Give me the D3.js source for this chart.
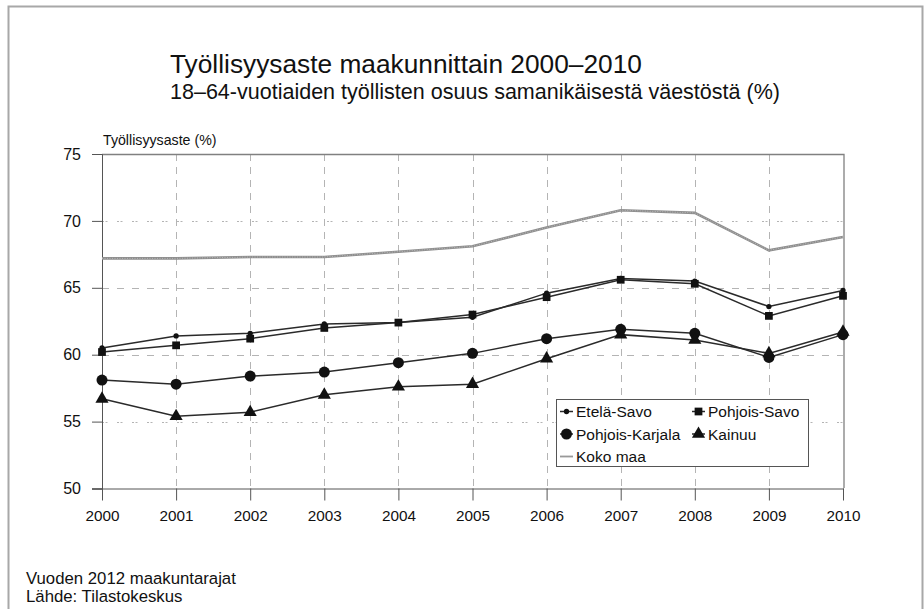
<!DOCTYPE html>
<html><head><meta charset="utf-8">
<script src="https://cdn.jsdelivr.net/npm/d3@7"></script>
<style>body{margin:0;background:#fff}svg{display:block;font-family:"Liberation Sans",Arial,sans-serif}</style>
</head><body>
<script>
const years = [2000,2001,2002,2003,2004,2005,2006,2007,2008,2009,2010];
const etelaSavo = [60.5,61.4,61.6,62.3,62.4,62.8,64.6,65.7,65.5,63.6,64.8];
const pohjoisSavo = [60.2,60.7,61.2,62.0,62.4,63.0,64.3,65.6,65.3,62.9,64.4];
const pohjoisKarjala = [58.1,57.8,58.4,58.7,59.4,60.1,61.2,61.9,61.6,59.8,61.5];
const kainuu = [56.7,55.4,55.7,57.0,57.6,57.8,59.7,61.5,61.1,60.1,61.7];
const kokoMaa = [67.2,67.2,67.3,67.3,67.7,68.1,69.5,70.8,70.6,67.8,68.8];
const yTicks = [50,55,60,65,70,75];
const seriesNames = ["Etelä-Savo","Pohjois-Savo","Pohjois-Karjala","Kainuu","Koko maa"];
const titleText = "Työllisyysaste maakunnittain 2000–2010";
const subtitleText = "18–64-vuotiaiden työllisten osuus samanikäisestä väestöstä (%)";
const yAxisTitle = "Työllisyysaste (%)";
const footer = ["Vuoden 2012 maakuntarajat","Lähde: Tilastokeskus"];

const W=924,H=609;
const svg=d3.select("body").append("svg").attr("width",W).attr("height",H);
svg.append("path").attr("d","M8.5,609 V6.5 H922.5 V609").attr("fill","none").attr("stroke","#a8a8a8").attr("stroke-width",2);

function fit(sel,target){
  const w=sel.node().getComputedTextLength();
  const fs=parseFloat(sel.attr("font-size"));
  sel.attr("font-size",(fs*target/w).toFixed(2));
  return sel;
}

const x=d3.scaleLinear().domain([2000,2010]).range([102,843]);
const y=d3.scaleLinear().domain([50,75]).range([488.5,154]);

fit(svg.append("text").attr("x",170).attr("y",73).attr("font-size",26).attr("fill","#111").text(titleText),472);
fit(svg.append("text").attr("x",170).attr("y",98.5).attr("font-size",21).attr("fill","#111").text(subtitleText),610);
svg.append("text").attr("x",103).attr("y",145).attr("font-size",14.2).attr("fill","#111").text(yAxisTitle);

const g=svg.append("g");
g.selectAll(".hg").data(yTicks.filter(d=>d>50&&d<75)).join("line")
 .attr("x1",102).attr("x2",843).attr("y1",d=>Math.round(y(d))+0.5).attr("y2",d=>Math.round(y(d))+0.5)
 .attr("stroke","#b4b4b4").attr("stroke-width",1)
 .attr("stroke-dasharray",d=>(d===70||d===55)?"2,1.5,2,9.5":"7,8");
g.selectAll(".vg").data(years.filter(d=>d>2000&&d<2010)).join("line")
 .attr("x1",d=>Math.round(x(d))+0.5).attr("x2",d=>Math.round(x(d))+0.5).attr("y1",154).attr("y2",488)
 .attr("stroke","#b4b4b4").attr("stroke-width",1).attr("stroke-dasharray","7,6");
g.append("path").attr("d",`M102,154.5 H844 V488`).attr("fill","none").attr("stroke","#808080").attr("stroke-width",1.3);

const yAxis=d3.axisLeft(y).tickValues(yTicks).tickSize(10).tickPadding(11);
const ya=svg.append("g").attr("transform","translate(102,0)").call(yAxis);
ya.select(".domain").attr("stroke","#555");
ya.selectAll(".tick line").attr("stroke","#555");
ya.selectAll("text").attr("font-size",16).attr("fill","#111").attr("font-family","Liberation Sans, Arial");
const xAxis=d3.axisBottom(x).tickValues(years).tickFormat(d3.format("d")).tickSize(12).tickPadding(10);
const xa=svg.append("g").attr("transform","translate(0,488.5)").call(xAxis);
xa.select(".domain").attr("d","M92,0.5H844").attr("stroke","#555");
xa.selectAll(".tick line").attr("stroke","#555");
xa.selectAll("text").attr("font-size",15.3).attr("fill","#111").attr("font-family","Liberation Sans, Arial");

const line=d3.line().x((d,i)=>x(years[i])).y(d=>y(d));
svg.append("path").datum(kokoMaa).attr("d",line).attr("fill","none").attr("stroke","#8e8e8e").attr("stroke-width",2.6);
svg.append("path").datum(kokoMaa).attr("d",line).attr("fill","none").attr("stroke","#c4c4c4").attr("stroke-width",0.8).attr("stroke-dasharray","1,1.5");

const dark="#2a2a2a";
const seriesData=[etelaSavo,pohjoisSavo,pohjoisKarjala,kainuu];
const symbols=[d3.symbolCircle,d3.symbolSquare,d3.symbolCircle,d3.symbolTriangle];
const sizes=[22,60,95,75];
seriesData.forEach((s,k)=>{
  svg.append("path").datum(s).attr("d",line).attr("fill","none").attr("stroke",dark).attr("stroke-width",1.5);
  svg.selectAll(null).data(s).join("path")
   .attr("transform",(d,i)=>`translate(${x(years[i])},${y(d)})`)
   .attr("d",d3.symbol().type(symbols[k]).size(sizes[k])).attr("fill","#111");
});

const lg=svg.append("g");
lg.append("rect").attr("x",556.5).attr("y",399.5).attr("width",252).attr("height",67).attr("fill","#fff").attr("stroke","#555").attr("stroke-width",1);
const legPos=[[560,417],[692,417],[560,439.5],[692,439.5],[560,462]];
legPos.forEach((p,k)=>{
  const [lx,ly]=p, cy=ly-5.5;
  if(k<4){
    lg.append("line").attr("x1",lx).attr("x2",lx+13).attr("y1",cy).attr("y2",cy).attr("stroke",dark).attr("stroke-width",1.5);
    lg.append("path").attr("transform",`translate(${lx+6.5},${cy})`).attr("d",d3.symbol().type(symbols[k]).size(sizes[k])).attr("fill","#111");
  } else {
    lg.append("line").attr("x1",lx).attr("x2",lx+13).attr("y1",cy).attr("y2",cy).attr("stroke","#999").attr("stroke-width",1.8);
  }
  lg.append("text").attr("x",lx+16).attr("y",ly).attr("font-size",15.5).attr("fill","#111").text(seriesNames[k]);
});

const ft=svg.append("text").attr("x",26).attr("y",584).attr("font-size",16.5).attr("fill","#111").text(footer[0]);
fit(ft,210);
svg.append("text").attr("x",26).attr("y",602).attr("font-size",ft.attr("font-size")).attr("fill","#111").text(footer[1]);
</script>
</body></html>
